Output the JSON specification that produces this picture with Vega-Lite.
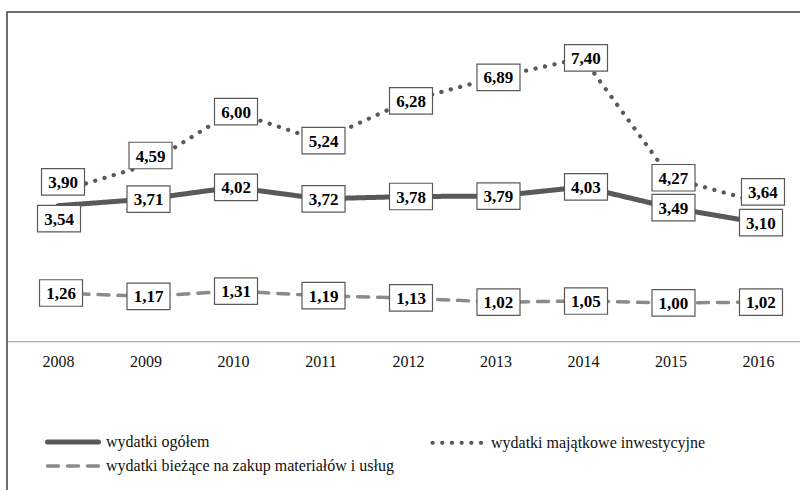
{
  "$schema": "https://vega.github.io/schema/vega-lite/v6.json",
  "autosize": {"type": "none"},
  "width": 802,
  "height": 490,
  "padding": {"left": 7, "top": 12, "right": 0, "bottom": 0},
  "background": "white",
  "config": {
    "view": {"stroke": "#404040", "strokeWidth": 1.5},
    "locale": {"number": {"decimal": ",", "thousands": " ", "grouping": [3], "currency": ["", " zł"]}},
    "font": "Liberation Serif"
  },
  "data": {
    "values": [
      {"year": 2008, "series": "wydatki ogółem", "value": 3.54},
      {"year": 2009, "series": "wydatki ogółem", "value": 3.71},
      {"year": 2010, "series": "wydatki ogółem", "value": 4.02},
      {"year": 2011, "series": "wydatki ogółem", "value": 3.72},
      {"year": 2012, "series": "wydatki ogółem", "value": 3.78},
      {"year": 2013, "series": "wydatki ogółem", "value": 3.79},
      {"year": 2014, "series": "wydatki ogółem", "value": 4.03},
      {"year": 2015, "series": "wydatki ogółem", "value": 3.49},
      {"year": 2016, "series": "wydatki ogółem", "value": 3.10},
      {"year": 2008, "series": "wydatki majątkowe inwestycyjne", "value": 3.90},
      {"year": 2009, "series": "wydatki majątkowe inwestycyjne", "value": 4.59},
      {"year": 2010, "series": "wydatki majątkowe inwestycyjne", "value": 6.00},
      {"year": 2011, "series": "wydatki majątkowe inwestycyjne", "value": 5.24},
      {"year": 2012, "series": "wydatki majątkowe inwestycyjne", "value": 6.28},
      {"year": 2013, "series": "wydatki majątkowe inwestycyjne", "value": 6.89},
      {"year": 2014, "series": "wydatki majątkowe inwestycyjne", "value": 7.40},
      {"year": 2015, "series": "wydatki majątkowe inwestycyjne", "value": 4.27},
      {"year": 2016, "series": "wydatki majątkowe inwestycyjne", "value": 3.64},
      {"year": 2008, "series": "wydatki bieżące na zakup materiałów i usług", "value": 1.26},
      {"year": 2009, "series": "wydatki bieżące na zakup materiałów i usług", "value": 1.17},
      {"year": 2010, "series": "wydatki bieżące na zakup materiałów i usług", "value": 1.31},
      {"year": 2011, "series": "wydatki bieżące na zakup materiałów i usług", "value": 1.19},
      {"year": 2012, "series": "wydatki bieżące na zakup materiałów i usług", "value": 1.13},
      {"year": 2013, "series": "wydatki bieżące na zakup materiałów i usług", "value": 1.02},
      {"year": 2014, "series": "wydatki bieżące na zakup materiałów i usług", "value": 1.05},
      {"year": 2015, "series": "wydatki bieżące na zakup materiałów i usług", "value": 1.00},
      {"year": 2016, "series": "wydatki bieżące na zakup materiałów i usług", "value": 1.02}
    ]
  },
  "encoding": {
    "x": {
      "field": "year", "type": "ordinal",
      "scale": {"type": "point", "padding": 0.583},
      "axis": {
        "orient": "bottom", "offset": -160.8, "title": null, "labelAngle": 0,
        "ticks": false, "domainColor": "#9a9a9a", "domainWidth": 1,
        "labelFont": "Liberation Serif", "labelFontSize": 16, "labelColor": "#111",
        "labelPadding": 12, "grid": false
      }
    },
    "y": {
      "field": "value", "type": "quantitative",
      "scale": {"domain": [-4.2, 8.6], "nice": false, "zero": false},
      "axis": null
    }
  },
  "layer": [
    {
      "mark": {"type": "line", "strokeCap": "round", "strokeJoin": "round"},
      "encoding": {
        "color": {
          "field": "series", "type": "nominal",
          "scale": {
            "domain": ["wydatki ogółem", "wydatki majątkowe inwestycyjne", "wydatki bieżące na zakup materiałów i usług"],
            "range": ["#595959", "#595959", "#8a8a8a"]
          },
          "legend": {
            "orient": "none", "legendX": 58, "legendY": 422, "title": null,
            "direction": "horizontal",
            "columns": 2, "columnPadding": 30, "rowPadding": 6,
            "symbolType": "M-5.1,0H5.1", "symbolSize": 100, "labelOffset": 25,
            "labelFont": "Liberation Serif", "labelFontSize": 16, "labelColor": "#111",
            "labelLimit": 400,
            "encode": {"symbols": {"update": {"strokeCap": {"value": "round"}}}}
          }
        },
        "strokeDash": {
          "field": "series", "type": "nominal",
          "scale": {
            "domain": ["wydatki ogółem", "wydatki majątkowe inwestycyjne", "wydatki bieżące na zakup materiałów i usług"],
            "range": [[1, 0], [0.1, 9.6], [11, 9]]
          }
        },
        "strokeWidth": {
          "field": "series", "type": "nominal",
          "scale": {
            "domain": ["wydatki ogółem", "wydatki majątkowe inwestycyjne", "wydatki bieżące na zakup materiałów i usług"],
            "range": [5, 3.5, 4.5]
          }
        }
      }
    },
    {
      "transform": [{"filter": "!((datum.series == 'wydatki ogółem' && datum.year == 2008) || (datum.series == 'wydatki majątkowe inwestycyjne' && (datum.year == 2008 || datum.year == 2009 || datum.year == 2016)))"}],
      "layer": [
        {"mark": {"type": "point", "shape": "M-1,-0.616H1V0.616H-1Z", "size": 1849, "filled": true, "fill": "white", "stroke": "#595959", "strokeWidth": 1.2, "opacity": 1, "xOffset": 3}},
        {"mark": {"type": "text", "font": "Liberation Serif", "fontWeight": "bold", "fontSize": 17, "color": "black", "baseline": "middle", "dx": 3, "dy": 1}, "encoding": {"text": {"field": "value", "type": "quantitative", "format": ".2f"}}}
      ]
    },
    {
      "transform": [{"filter": "datum.series == 'wydatki ogółem' && datum.year == 2008"}],
      "layer": [
        {"mark": {"type": "point", "shape": "M-1,-0.616H1V0.616H-1Z", "size": 1849, "filled": true, "fill": "white", "stroke": "#595959", "strokeWidth": 1.2, "opacity": 1, "xOffset": 1, "yOffset": 13}},
        {"mark": {"type": "text", "font": "Liberation Serif", "fontWeight": "bold", "fontSize": 17, "color": "black", "baseline": "middle", "dx": 1, "dy": 14}, "encoding": {"text": {"field": "value", "type": "quantitative", "format": ".2f"}}}
      ]
    },
    {
      "transform": [{"filter": "datum.series == 'wydatki majątkowe inwestycyjne' && (datum.year == 2008 || datum.year == 2009 || datum.year == 2016)"}],
      "layer": [
        {"mark": {"type": "point", "shape": "M-1,-0.616H1V0.616H-1Z", "size": 1849, "filled": true, "fill": "white", "stroke": "#595959", "strokeWidth": 1.2, "opacity": 1, "xOffset": 5, "yOffset": -10}},
        {"mark": {"type": "text", "font": "Liberation Serif", "fontWeight": "bold", "fontSize": 17, "color": "black", "baseline": "middle", "dx": 5, "dy": -9}, "encoding": {"text": {"field": "value", "type": "quantitative", "format": ".2f"}}}
      ]
    }
  ]
}
